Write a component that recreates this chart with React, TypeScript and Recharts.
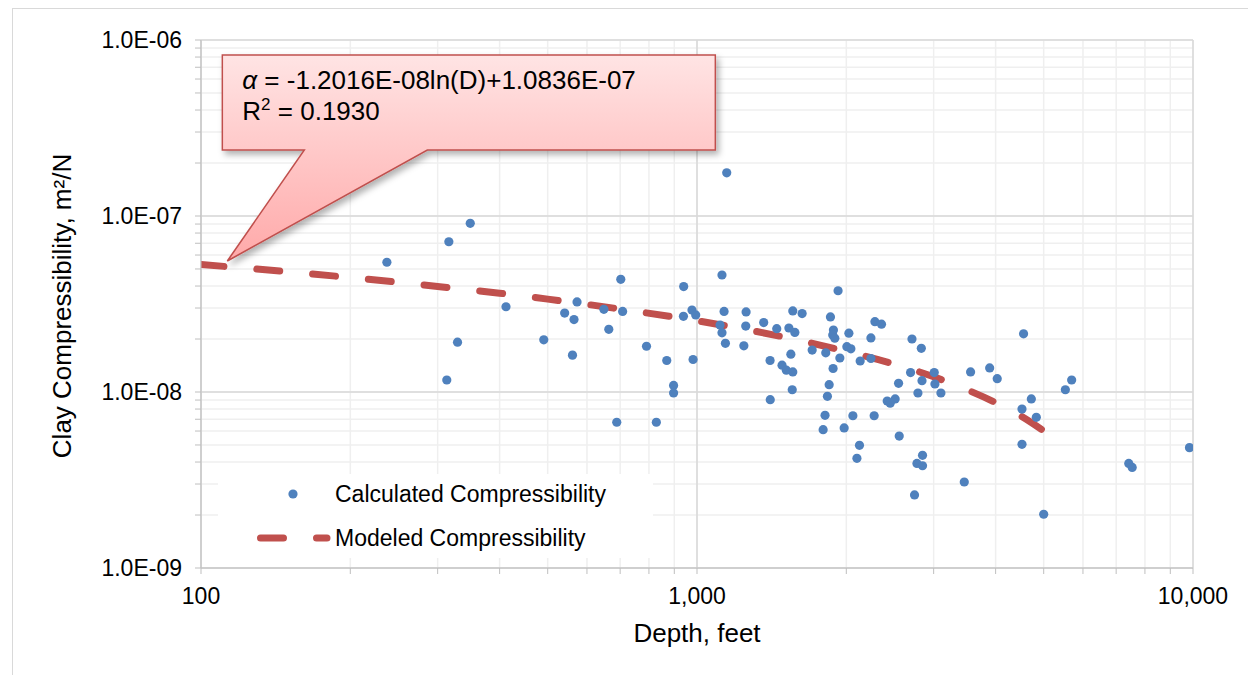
import {
  ComposedChart,
  Scatter,
  Line,
  XAxis,
  YAxis,
  CartesianGrid,
  ReferenceLine,
  ReferenceDot,
} from "recharts";

const calcDepth = [
  237, 316, 349, 412, 329, 313, 1148, 702, 1123, 940, 1925, 573, 541, 565, 649, 708, 664, 491, 561, 939,
  977, 994, 1134, 1113, 1123, 1141, 791, 869, 982, 897, 897, 1256, 1254, 1243, 1363, 1448, 1560, 1629, 1532, 1575,
  1404, 1484, 1514, 1560, 1546, 1556, 1405, 1858, 1884, 1878, 1896, 2024, 1707, 1818, 2005, 2043, 1941, 1881, 1847, 1832,
  2133, 2284, 2355, 2242, 2713, 2833, 2242, 4554, 2695, 3008, 3561, 3891, 4030, 2549, 2842, 3018, 2789, 3103, 5693, 5529,
  2418, 2509, 4721, 4521, 4832, 4521, 2452, 2062, 2276, 2557, 2126, 2101, 2849, 2776, 2849, 3458, 2745, 5000, 7421, 7541,
  9838, 689, 828, 1812, 1796, 1980,
];
const calcAlpha = [
  5.46e-8, 7.14e-8, 9.09e-8, 3.05e-8, 1.92e-8, 1.17e-8, 1.76e-7, 4.37e-8, 4.62e-8, 3.97e-8, 3.76e-8, 3.25e-8, 2.81e-8, 2.58e-8, 2.95e-8, 2.87e-8, 2.27e-8, 1.98e-8, 1.62e-8, 2.69e-8,
  2.92e-8, 2.74e-8, 2.87e-8, 2.4e-8, 2.17e-8, 1.89e-8, 1.82e-8, 1.51e-8, 1.53e-8, 1.09e-8, 9.87e-9, 2.85e-8, 2.37e-8, 1.83e-8, 2.48e-8, 2.29e-8, 2.89e-8, 2.79e-8, 2.31e-8, 2.18e-8,
  1.51e-8, 1.42e-8, 1.33e-8, 1.3e-8, 1.64e-8, 1.03e-8, 9.04e-9, 2.67e-8, 2.25e-8, 2.11e-8, 2.02e-8, 2.16e-8, 1.73e-8, 1.67e-8, 1.81e-8, 1.76e-8, 1.56e-8, 1.36e-8, 1.1e-8, 9.45e-9,
  1.5e-8, 2.51e-8, 2.43e-8, 2.03e-8, 2.0e-8, 1.77e-8, 1.55e-8, 2.14e-8, 1.29e-8, 1.29e-8, 1.3e-8, 1.37e-8, 1.19e-8, 1.12e-8, 1.16e-8, 1.11e-8, 9.87e-9, 9.87e-9, 1.17e-8, 1.03e-8,
  8.89e-9, 9.13e-9, 9.13e-9, 8.0e-9, 7.18e-9, 5.04e-9, 8.63e-9, 7.33e-9, 7.33e-9, 5.62e-9, 4.98e-9, 4.2e-9, 4.37e-9, 3.93e-9, 3.81e-9, 3.08e-9, 2.6e-9, 2.02e-9, 3.93e-9, 3.73e-9,
  4.83e-9, 6.73e-9, 6.73e-9, 7.37e-9, 6.11e-9, 6.25e-9,
];

// modeled trend line
const modelDepth = [100, 150, 200, 300, 400, 500, 700, 1000, 1500, 2000, 2500, 3000, 3500, 4000, 4500, 5050];
const modelAlpha = [5.3e-8, 4.82e-8, 4.47e-8, 3.98e-8, 3.64e-8, 3.37e-8, 2.96e-8, 2.54e-8, 2.05e-8, 1.7e-8, 1.44e-8, 1.22e-8, 1.03e-8, 8.7e-9, 7.3e-9, 5.9e-9];

const xTicks = [100, 200, 300, 400, 500, 600, 700, 800, 900, 1000, 2000, 3000, 4000, 5000, 6000, 7000, 8000, 9000, 10000];
const xMajor = [100, 1000, 10000];
const xLabels = ["100", "1,000", "10,000"];

const yTicks = [
  1e-9, 2e-9, 3e-9, 4e-9, 5e-9, 6e-9, 7e-9, 8e-9, 9e-9,
  1e-8, 2e-8, 3e-8, 4e-8, 5e-8, 6e-8, 7e-8, 8e-8, 9e-8,
  1e-7, 2e-7, 3e-7, 4e-7, 5e-7, 6e-7, 7e-7, 8e-7, 9e-7, 1e-6,
];
const yMajor = [1e-9, 1e-8, 1e-7, 1e-6];
const yLabels = ["1.0E-09", "1.0E-08", "1.0E-07", "1.0E-06"];

const calcData = calcDepth.map((d, i) => ({ depth: d, alpha: calcAlpha[i] }));
const modelData = modelDepth.map((d, i) => ({ depth: d, alpha: modelAlpha[i] }));

const FONT = "'Liberation Sans', Arial, sans-serif";
const BLUE = "#4f81bd";
const RED = "#c0504d";

const Callout = (props: any) => {
  const { cx, cy } = props;
  if (cx == null || cy == null) return null;
  const left = cx - 5;
  const right = cx + 488;
  const top = cy - 206;
  const bottom = cy - 111;
  const d = `M${left},${top} H${right} V${bottom} H${cx + 200} L${cx},${cy} L${cx + 77},${bottom} H${left} Z`;
  return (
    <g>
      <defs>
        <linearGradient id="calloutFill" gradientUnits="userSpaceOnUse" x1="0" y1={top} x2="0" y2={cy}>
          <stop offset="0%" stopColor="#ffe4e4" />
          <stop offset="100%" stopColor="#ffa9a9" />
        </linearGradient>
        <filter id="calloutShadow" x="-10%" y="-10%" width="120%" height="130%">
          <feDropShadow dx="3" dy="4" stdDeviation="3" floodColor="#000" floodOpacity="0.3" />
        </filter>
      </defs>
      <path d={d} fill="url(#calloutFill)" stroke={RED} strokeWidth={1.5} filter="url(#calloutShadow)" />
      <text x={cx + 15} y={cy - 172} fontSize={26} fontFamily={FONT} fill="#000">
        <tspan fontStyle="italic">α</tspan>
        <tspan> = -1.2016E-08ln(D)+1.0836E-07</tspan>
      </text>
      <text x={cx + 15} y={cy - 141} fontSize={26} fontFamily={FONT} fill="#000">
        <tspan>R</tspan>
        <tspan fontSize={17} dy={-10}>2</tspan>
        <tspan dy={10}> = 0.1930</tspan>
      </text>
    </g>
  );
};

const LegendBox = () => (
  <svg width={435} height={84} style={{ display: "block" }}>
    <rect x={0} y={0} width={435} height={84} fill="#fff" />
    <circle cx={75} cy={20} r={4.6} fill={BLUE} />
    <text x={117} y={28} fontSize={23} fontFamily={FONT} fill="#000">
      Calculated Compressibility
    </text>
    <line x1={42.5} y1={64} x2={109} y2={64} stroke={RED} strokeWidth={7} strokeLinecap="round" strokeDasharray="23 33" />
    <text x={117} y={72} fontSize={23} fontFamily={FONT} fill="#000">
      Modeled Compressibility
    </text>
  </svg>
);

export default function App() {
  return (
    <div
      style={{
        position: "fixed",
        left: 0,
        top: 0,
        width: 1248,
        height: 675,
        background: "#fff",
        overflow: "hidden",
        fontFamily: FONT,
      }}
    >
      <div
        style={{
          position: "absolute",
          left: 12,
          top: 8,
          width: 1240,
          height: 680,
          borderLeft: "1px solid #d9d9d9",
          borderTop: "1px solid #d9d9d9",
        }}
      />
      <div style={{ position: "absolute", left: 0, top: 0 }}>
        <ComposedChart width={1248} height={675} margin={{ top: 40, right: 55, bottom: 0, left: 0 }}>
          <CartesianGrid stroke="#efefef" strokeWidth={1.5} />
          {xMajor.map((v) => (
            <ReferenceLine key={"x" + v} x={v} stroke="#d9d9d9" strokeWidth={1.5} />
          ))}
          {yMajor.map((v) => (
            <ReferenceLine key={"y" + v} y={v} stroke="#d9d9d9" strokeWidth={1.5} />
          ))}
          <XAxis
            dataKey="depth"
            type="number"
            scale="log"
            domain={[100, 10000]}
            allowDataOverflow
            ticks={xTicks}
            interval={0}
            height={107}
            tickFormatter={(v: number) => {
              const i = xMajor.indexOf(v);
              return i >= 0 ? xLabels[i] : "";
            }}
            tick={{ fontSize: 23, fill: "#000", fontFamily: FONT }}
            stroke="#bfbfbf"
            tickSize={6}
            tickMargin={14}
          />
          <YAxis
            dataKey="alpha"
            type="number"
            scale="log"
            domain={[1e-9, 1e-6]}
            allowDataOverflow
            ticks={yTicks}
            interval={0}
            width={201}
            tickFormatter={(v: number) => {
              const i = yMajor.findIndex((m) => Math.abs(m - v) / m < 1e-6);
              return i >= 0 ? yLabels[i] : "";
            }}
            tick={{ fontSize: 23, fill: "#000", fontFamily: FONT }}
            stroke="#bfbfbf"
            tickSize={6}
            tickMargin={13}
          />
          <Line
            data={modelData}
            dataKey="alpha"
            type="monotone"
            stroke={RED}
            strokeWidth={7}
            strokeLinecap="round"
            strokeDasharray="23 33"
            dot={false}
            activeDot={false}
            isAnimationActive={false}
          />
          <Scatter
            data={calcData}
            dataKey="alpha"
            isAnimationActive={false}
            shape={(p: any) => <circle cx={p.cx} cy={p.cy} r={4.6} fill={BLUE} />}
          />
          <ReferenceDot x={113} y={5.55e-8} shape={(p: any) => <Callout {...p} />} />
        </ComposedChart>
      </div>
      <div style={{ position: "absolute", left: 218, top: 474 }}>
        <LegendBox />
      </div>
      <div
        style={{
          position: "absolute",
          left: 697,
          top: 633,
          transform: "translate(-50%, -50%)",
          fontSize: 26,
          whiteSpace: "nowrap",
          color: "#000",
        }}
      >
        Depth, feet
      </div>
      <div
        style={{
          position: "absolute",
          left: 62,
          top: 306,
          transform: "translate(-50%, -50%) rotate(-90deg)",
          fontSize: 26,
          whiteSpace: "nowrap",
          color: "#000",
        }}
      >
        Clay Compressibility, m²/N
      </div>
    </div>
  );
}
